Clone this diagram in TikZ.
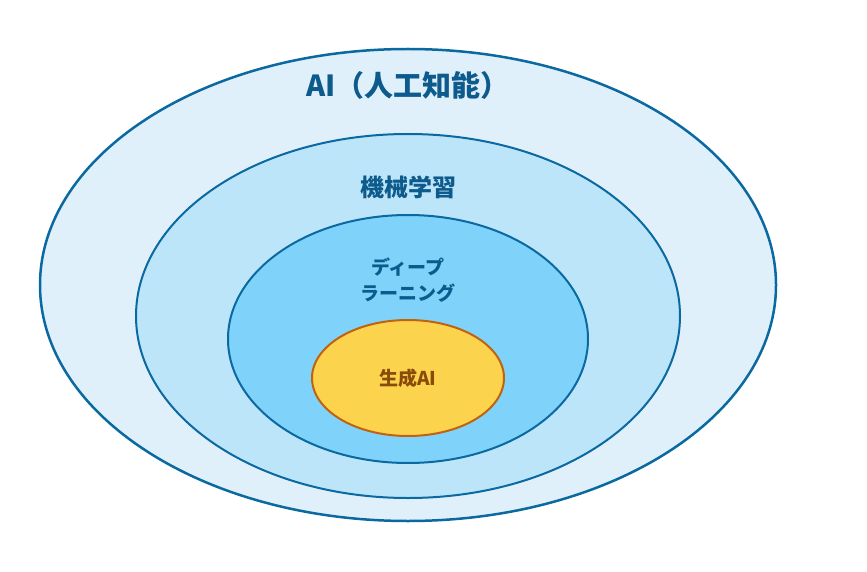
\documentclass[tikz,border=0pt]{standalone}
\usepackage{fontspec}
\newfontfamily\jpfont{Noto Sans CJK JP}
\usetikzlibrary{shapes.geometric}
\definecolor{ringline}{HTML}{0A69A0}
\definecolor{ringA}{HTML}{E0F0FB}
\definecolor{ringB}{HTML}{BDE5FA}
\definecolor{ringC}{HTML}{7FD3FA}
\definecolor{coreFill}{HTML}{FCD34D}
\definecolor{coreLine}{HTML}{C0620F}
\definecolor{labelBlue}{HTML}{0D5A8C}
\definecolor{labelBrown}{HTML}{8A4A0A}
\tikzstyle{ring} = [draw=ringline, ellipse, line width=2pt, inner sep=0pt]
\tikzstyle{lbl} = [text=labelBlue, align=center]

\begin{document}
\begin{tikzpicture}[x=1pt, y=-1pt]
	\useasboundingbox (0,0) rectangle (867,572);
	
	\node [ring, fill=ringA, line width=2.5pt, minimum width=736, minimum height=472] (ai) at (408,285) {};
	\node [ring, fill=ringB, minimum width=544, minimum height=364] (ml) at (408,316) {};
	\node [ring, fill=ringC, minimum width=360, minimum height=248] (dl) at (408,339) {};
	\node [ring, draw=coreLine, fill=coreFill, minimum width=192, minimum height=116] (gen) at (408,378) {};
	
	\node [lbl, font=\jpfont\bfseries\fontsize{29}{32}\selectfont] (aiT) at (408,85) {AI（人工知能）};
	\node [lbl, font=\jpfont\bfseries\fontsize{24}{28}\selectfont] (mlT) at (408,187) {機械学習};
	\node [lbl, font=\jpfont\bfseries\fontsize{19}{26}\selectfont] (dlT) at (408,280) {ディープ\\ラーニング};
	\node [lbl, text=labelBrown, font=\jpfont\bfseries\fontsize{19}{22}\selectfont] (genT) at (gen) {生成AI};
	
\end{tikzpicture}
\end{document}
